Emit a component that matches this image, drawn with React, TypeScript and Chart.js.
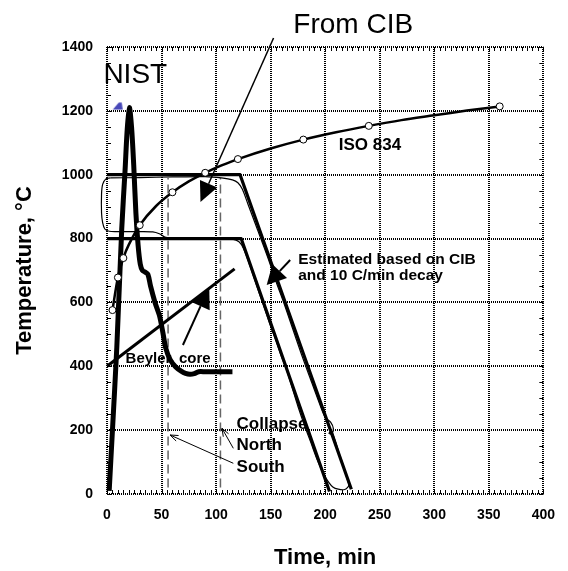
import React, { useEffect, useRef } from 'react';
import { Chart, registerables } from 'chart.js';

Chart.register(...registerables);

// ---- tick labels ----
const xTickValues = [0, 50, 100, 150, 200, 250, 300, 350, 400];
const yTickValues = [0, 200, 400, 600, 800, 1000, 1200, 1400];

// ---- NIST (thick) ----
const nistTime = [2, 5, 9, 13.5, 16.5, 18.5, 20.5, 22.5, 24.5, 26.5, 28.5, 30.5, 32.5, 35, 37.5, 40, 44, 48, 51, 54, 58, 63, 68, 72, 76, 80, 84, 90, 100, 115];
const nistTemp = [10, 200, 460, 830, 1010, 1140, 1210, 1150, 1030, 880, 780, 720, 700, 695, 688, 650, 600, 560, 510, 455, 420, 398, 385, 378, 375, 377, 383, 383, 383, 383];
const nistMarkTime = [9.8];
const nistMarkTemp = [1215];

// ---- ISO 834 ----
const isoTime = [5, 10, 15, 20, 30, 45, 60, 75, 90, 105, 120, 150, 180, 210, 240, 270, 300, 330, 360];
const isoTemp = [576, 678, 739, 781, 842, 902, 945, 979, 1006, 1029, 1049, 1082, 1110, 1133, 1153, 1171, 1186, 1201, 1214];
const isoMarkTime = [5, 10, 15, 30, 60, 90, 120, 180, 240, 360];

// ---- Beyler, core ----
const beylerTime = [0, 117];
const beylerTemp = [400, 705];

// ---- From CIB, estimated with 10 C/min decay ----
const cibHighTime = [0, 122, 224];
const cibHighTemp = [1000, 1000, 15];
const cibLowTime = [0, 123, 204];
const cibLowTemp = [800, 800, 8];

// ---- CIB measured (thin) ----
const measHighTime = [3, 30, 60, 90, 105, 115, 120, 124, 129, 135, 141, 148, 155, 162, 170, 178, 186, 193, 200, 205, 207.5, 206, 203.5, 206, 209, 213, 217, 220, 222];
const measHighTemp = [990, 991, 993, 994, 990, 984, 975, 955, 910, 855, 800, 735, 665, 600, 520, 440, 365, 300, 240, 225, 205, 188, 190, 196, 170, 125, 85, 50, 28];
const measLowTime = [3, -1, -4, -5, -5, -4, -2, 2, 10, 30, 42, 48, 53, 60, 80, 100, 115, 121, 125, 130, 135, 140, 145, 150, 155, 160, 165, 170, 175, 181, 187, 193, 199, 203, 207, 212, 218, 221, 222];
const measLowTemp = [990, 987, 970, 940, 880, 850, 830, 823, 822, 822, 821, 815, 805, 801, 800, 800, 798, 790, 770, 725, 675, 625, 575, 525, 480, 430, 385, 330, 275, 215, 160, 105, 60, 38, 22, 15, 14, 22, 30];

// ---- collapse times ----
const collapseSouthTime = 56;
const collapseNorthTime = 104;
const collapseTempRange = [20, 990];

const FONT = '"Liberation Sans", Arial, Helvetica, sans-serif';

type Label = { text: string; x: number; y: number; size: number; bold: boolean };
const annotations: Label[] = [
  { text: 'NIST', x: -3.3, y: 1286, size: 28, bold: false },
  { text: 'From CIB', x: 170.8, y: 1443, size: 28, bold: false },
  { text: 'ISO 834', x: 212.5, y: 1077, size: 17, bold: true },
  { text: 'Estimated based on CIB', x: 175.3, y: 719, size: 15.5, bold: true },
  { text: 'and 10 C/min decay', x: 175.3, y: 670, size: 15.5, bold: true },
  { text: 'Beyler, core', x: 17, y: 409, size: 15, bold: true },
  { text: 'Collapse', x: 118.8, y: 203, size: 17, bold: true },
  { text: 'North', x: 118.8, y: 138, size: 17, bold: true },
  { text: 'South', x: 118.8, y: 70, size: 17, bold: true },
];

type Arrow = { from: [number, number]; to: [number, number]; lw: number; hl: number; hw: number; filled: boolean };
const arrows: Arrow[] = [
  { from: [152.7, 1428], to: [85.7, 914.5], lw: 1.5, hl: 20, hw: 19, filled: true },
  { from: [69.6, 466.7], to: [93.75, 648.3], lw: 2, hl: 21, hw: 20, filled: true },
  { from: [167.9, 733], to: [146.4, 654.6], lw: 2, hl: 19, hw: 20, filled: true },
  { from: [115.8, 96.2], to: [57.8, 184.8], lw: 1, hl: 8, hw: 6, filled: false },
  { from: [115.8, 143.1], to: [105.4, 205.8], lw: 1, hl: 8, hw: 6, filled: false },
];

const pts = (xs: number[], ys: number[]) => xs.map((x, i) => ({ x, y: ys[i] }));

function drawArrow(ctx: CanvasRenderingContext2D, x1: number, y1: number, x2: number, y2: number, a: Arrow) {
  const ang = Math.atan2(y2 - y1, x2 - x1);
  const bx = x2 - a.hl * Math.cos(ang);
  const by = y2 - a.hl * Math.sin(ang);
  const px = (-Math.sin(ang) * a.hw) / 2;
  const py = (Math.cos(ang) * a.hw) / 2;
  ctx.lineWidth = a.lw;
  ctx.beginPath();
  ctx.moveTo(x1, y1);
  if (a.filled) ctx.lineTo(bx, by);
  else ctx.lineTo(x2, y2);
  ctx.stroke();
  ctx.beginPath();
  if (a.filled) {
    ctx.moveTo(x2, y2);
    ctx.lineTo(bx + px, by + py);
    ctx.lineTo(bx - px, by - py);
    ctx.closePath();
    ctx.fill();
  } else {
    ctx.moveTo(bx + px, by + py);
    ctx.lineTo(x2, y2);
    ctx.lineTo(bx - px, by - py);
    ctx.stroke();
  }
}

const decorPlugin = {
  id: 'decor',
  afterDatasetsDraw(chart: any) {
    const { ctx, chartArea } = chart;
    const xs = chart.scales.x;
    const ys = chart.scales.y;
    ctx.save();
    ctx.strokeStyle = '#000';
    ctx.fillStyle = '#000';
    ctx.lineWidth = 1;
    // minor ticks on all four edges
    ctx.beginPath();
    for (let v = 0; v <= 400; v += 5) {
      const p = Math.round(xs.getPixelForValue(v)) + 0.5;
      ctx.moveTo(p, chartArea.bottom);
      ctx.lineTo(p, chartArea.bottom - 4);
      ctx.moveTo(p, chartArea.top);
      ctx.lineTo(p, chartArea.top + 4);
    }
    for (let v = 0; v <= 1400; v += 50) {
      const p = Math.round(ys.getPixelForValue(v)) + 0.5;
      ctx.moveTo(chartArea.left, p);
      ctx.lineTo(chartArea.left + 4, p);
      ctx.moveTo(chartArea.right, p);
      ctx.lineTo(chartArea.right - 4, p);
    }
    ctx.stroke();

    // arrows
    for (const a of arrows) {
      drawArrow(
        ctx,
        xs.getPixelForValue(a.from[0]),
        ys.getPixelForValue(a.from[1]),
        xs.getPixelForValue(a.to[0]),
        ys.getPixelForValue(a.to[1]),
        a
      );
    }

    // texts
    ctx.textAlign = 'left';
    ctx.textBaseline = 'alphabetic';
    for (const l of annotations) {
      ctx.font = `${l.bold ? 'bold ' : ''}${l.size}px ${FONT}`;
      ctx.fillText(l.text, xs.getPixelForValue(l.x), ys.getPixelForValue(l.y));
    }
    ctx.restore();
  },
};

function makeBlueMarker() {
  const c = document.createElement('canvas');
  c.width = 12;
  c.height = 8;
  const g = c.getContext('2d')!;
  g.fillStyle = '#4848b8';
  g.beginPath();
  g.moveTo(1, 7.5);
  g.lineTo(11, 7.5);
  g.lineTo(10, 0.5);
  g.lineTo(7, 0.5);
  g.closePath();
  g.fill();
  return c;
}

export default function App() {
  const ref = useRef<HTMLCanvasElement | null>(null);

  useEffect(() => {
    if (!ref.current) return;
    Chart.defaults.font.family = FONT;
    const black = '#000';
    const line = (data: any, width: number, extra: any = {}) => ({
      data,
      showLine: true,
      borderColor: black,
      backgroundColor: black,
      borderWidth: width,
      pointRadius: 0,
      pointHoverRadius: 0,
      clip: false,
      borderJoinStyle: 'round',
      borderCapStyle: 'butt',
      ...extra,
    });
    const isoMarks = isoMarkTime.map((t) => ({ x: t, y: isoTemp[isoTime.indexOf(t)] }));

    const chart = new Chart(ref.current, {
      type: 'scatter',
      data: {
        datasets: [
          {
            data: pts(nistMarkTime, nistMarkTemp),
            showLine: false,
            pointStyle: makeBlueMarker() as any,
            pointRadius: 5,
            clip: false,
          } as any,
          {
            data: isoMarks,
            showLine: false,
            pointRadius: 3.5,
            pointBackgroundColor: '#fff',
            pointBorderColor: black,
            pointBorderWidth: 1,
            clip: false,
          } as any,
          line(pts(nistTime, nistTemp), 5, { tension: 0.3 }),
          line(pts(isoTime, isoTemp), 2.5, { tension: 0.3 }),
          line(pts(beylerTime, beylerTemp), 3),
          line(pts(cibHighTime, cibHighTemp), 3.2),
          line(pts(cibLowTime, cibLowTemp), 3.2),
          line(pts(measHighTime, measHighTemp), 1.2, { tension: 0.3 }),
          line(pts(measLowTime, measLowTemp), 1.2, { tension: 0.3 }),
          line(
            pts([collapseSouthTime, collapseSouthTime], collapseTempRange),
            1.5,
            { borderColor: '#666', borderDash: [9, 5] }
          ),
          line(
            pts([collapseNorthTime, collapseNorthTime], collapseTempRange),
            1.5,
            { borderColor: '#666', borderDash: [9, 5] }
          ),
        ],
      },
      options: {
        animation: false,
        responsive: false,
        maintainAspectRatio: false,
        events: [],
        layout: { padding: { top: 47, right: 13, left: 0, bottom: 0 } },
        plugins: { legend: { display: false }, tooltip: { enabled: false } },
        scales: {
          x: {
            type: 'linear',
            min: 0,
            max: 400,
            afterBuildTicks: (s: any) => {
              s.ticks = xTickValues.map((v) => ({ value: v }));
            },
            afterFit: (s: any) => {
              s.height = 77;
            },
            ticks: {
              color: black,
              font: { size: 14, weight: 'bold' },
              padding: 13,
              maxRotation: 0,
              autoSkip: false,
              callback: (v: any) => String(v),
            },
            grid: { color: '#000', lineWidth: 2, drawTicks: false },
            border: { display: false, dash: [1, 1] },
            title: {
              display: true,
              text: 'Time, min',
              color: black,
              font: { size: 22, weight: 'bold' },
              padding: { top: 0, bottom: 0 },
            },
          },
          y: {
            type: 'linear',
            min: 0,
            max: 1400,
            afterBuildTicks: (s: any) => {
              s.ticks = yTickValues.map((v) => ({ value: v }));
            },
            afterFit: (s: any) => {
              s.width = 107;
            },
            ticks: {
              color: black,
              font: { size: 14, weight: 'bold' },
              padding: 14,
              autoSkip: false,
              callback: (v: any) => String(v),
            },
            grid: { color: '#000', lineWidth: 2, drawTicks: false },
            border: { display: false, dash: [1, 1] },
            title: {
              display: true,
              text: 'Temperature, °C',
              color: black,
              font: { size: 22, weight: 'bold' },
              padding: { top: 12, bottom: 0 },
            },
          },
        },
      } as any,
      plugins: [decorPlugin],
    });
    return () => chart.destroy();
  }, []);

  return (
    <div style={{ position: 'absolute', left: 0, top: 0, width: 568, height: 571, background: '#fff' }}>
      <canvas ref={ref} width={568} height={571} style={{ display: 'block', width: 568, height: 571 }} />
    </div>
  );
}
